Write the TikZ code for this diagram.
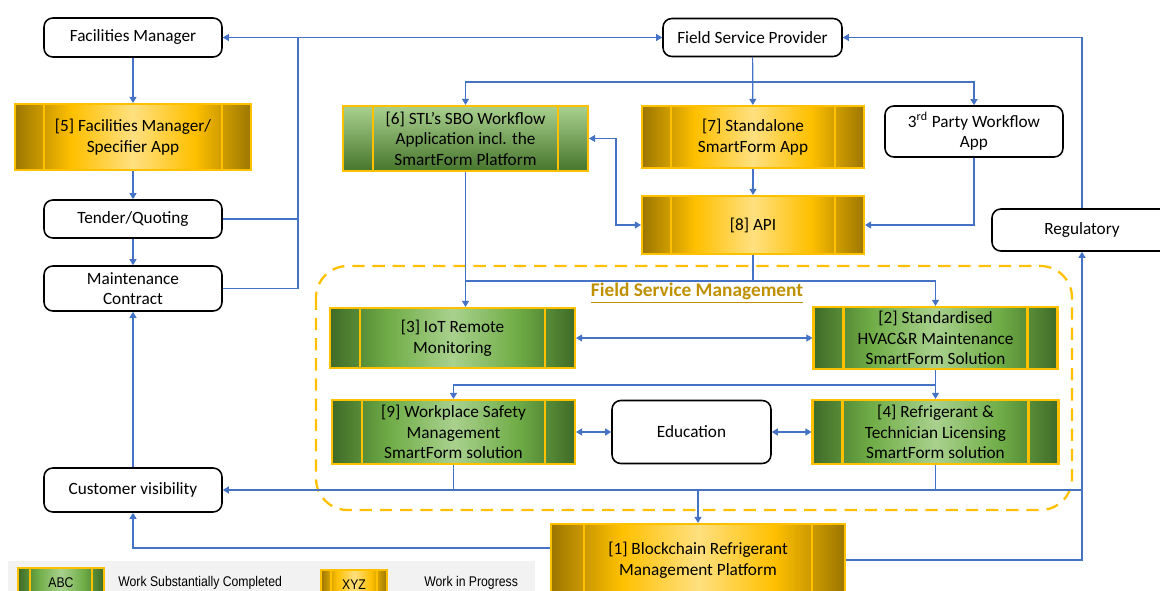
\documentclass[tikz,border=0pt]{standalone}
\usepackage{fontspec}
\setmainfont{Carlito}
\newfontfamily\legendfont[FakeStretch=0.87]{Liberation Sans}
\usetikzlibrary{arrows.meta}

\definecolor{linkblue}{HTML}{4472C4}
\definecolor{gold}{HTML}{FFC000}
\definecolor{goldlight}{HTML}{FFE080}
\definecolor{golddark}{HTML}{9C7600}
\definecolor{greenlight}{HTML}{A9D18E}
\definecolor{greenmid}{HTML}{70AD47}
\definecolor{greendark}{HTML}{3F6B27}
\definecolor{fsmgold}{HTML}{BF9000}
\definecolor{legendgray}{HTML}{F2F2F2}

\pgfdeclarehorizontalshading{goldglow}{100bp}{color(0bp)=(golddark); color(25bp)=(golddark);
  color(37bp)=(gold); color(50bp)=(goldlight); color(63bp)=(gold); color(75bp)=(golddark); color(100bp)=(golddark)}
\pgfdeclarehorizontalshading{greenglow}{100bp}{color(0bp)=(greendark); color(25bp)=(greendark);
  color(37bp)=(greenmid); color(50bp)=(greenlight); color(63bp)=(greenmid); color(75bp)=(greendark); color(100bp)=(greendark)}

\begin{document}
\begin{tikzpicture}[x=0.02cm,y=-0.02cm,
  every node/.style={font=\fontsize{9.8}{11.7}\selectfont, align=center, inner sep=0pt},
  actor/.style={draw=black, line width=0.9pt, rounded corners=5pt, fill=white},
  bars/.style={path picture={
    \draw[gold, line width=1.2pt]
      ([xshift=#1]path picture bounding box.south west) -- ([xshift=#1]path picture bounding box.north west)
      ([xshift=-#1]path picture bounding box.south east) -- ([xshift=-#1]path picture bounding box.north east);}},
  progress/.style={draw=gold, line width=1.2pt, shade, shading=goldglow, bars=0.58cm},
  completed/.style={draw=gold, line width=1.2pt, shade, shading=greenglow, bars=0.6cm},
  link/.style={draw=linkblue, line width=0.7pt},
  flow/.style={-{Triangle[length=3.5pt,width=4pt]}},
  twoway/.style={{Triangle[length=3.5pt,width=4pt]}-{Triangle[length=3.5pt,width=4pt]}},
  fsm/.style={draw=gold, line width=1.3pt, dash pattern=on 7pt off 4.5pt, rounded corners=18pt}]
  \useasboundingbox (0,0) rectangle (1160,591);

  % field service management area
  \draw[fsm] (316,266) rectangle (1072,510);
  \node[font=\fontsize{11}{13}\selectfont\bfseries, text=fsmgold] (fsmlabel) at (697,293)
    {\underline{Field Service Management}};

  % left column
  \node[actor, minimum width=3.56cm, minimum height=0.78cm] (fm) at (133,37.5) {Facilities Manager};
  \node[progress, minimum width=4.72cm, minimum height=1.32cm] (app5) at (133,137)
    {[5] Facilities Manager/\\Specifier App};
  \node[actor, minimum width=3.56cm, minimum height=0.76cm] (tender) at (133,219) {Tender/Quoting};
  \node[actor, minimum width=3.56cm, minimum height=0.9cm] (contract) at (133,288.5) {Maintenance\\Contract};
  \node[actor, minimum width=3.56cm, minimum height=0.88cm] (cust) at (133,490) {Customer visibility};

  % providers and workflow apps
  \node[actor, minimum width=3.58cm, minimum height=0.76cm] (fsp) at (752.5,37.5) {Field Service Provider};
  \node[draw=gold, line width=1.2pt, top color=greenlight, bottom color=greendark!85!greenmid, bars=0.6cm,
    minimum width=4.9cm, minimum height=1.3cm] (sbo6) at (465.5,138.5)
    {[6] STL’s SBO Workflow\\Application incl. the\\SmartForm Platform};
  \node[progress, minimum width=4.44cm, minimum height=1.24cm] (sf7) at (753,137) {[7] Standalone\\SmartForm App};
  \node[actor, minimum width=3.56cm, minimum height=1.02cm] (third) at (974,131.5)
    {3\textsuperscript{rd} Party Workflow\\App};
  \node[progress, minimum width=4.44cm, minimum height=1.16cm] (api8) at (753,225) {[8] API};
  \node[actor, minimum width=3.6cm, minimum height=0.84cm] (reg) at (1082,230) {Regulatory};

  % smartform solutions
  \node[completed, minimum width=4.9cm, minimum height=1.2cm] (iot3) at (452.5,338) {[3] IoT Remote\\Monitoring};
  \node[completed, minimum width=4.88cm, minimum height=1.24cm] (hvac2) at (935.5,338)
    {[2] Standardised\\HVAC\&R Maintenance\\SmartForm Solution};
  \node[completed, minimum width=4.86cm, minimum height=1.28cm] (wps9) at (453.5,432)
    {[9] Workplace Safety\\Management\\SmartForm solution};
  \node[actor, minimum width=3.18cm, minimum height=1.26cm] (edu) at (691.5,432) {Education};
  \node[completed, minimum width=4.92cm, minimum height=1.28cm] (lic4) at (935.5,432)
    {[4] Refrigerant \&\\Technician Licensing\\SmartForm solution};
  \node[progress, bars=0.66cm, minimum width=5.88cm, minimum height=1.44cm] (chain1) at (698,560)
    {[1] Blockchain Refrigerant\\Management Platform};

  % legend
  \fill[legendgray] (8,561) rectangle (535,595);
  \node[completed, bars=0.24cm, minimum width=1.72cm, minimum height=0.6cm,
    font=\legendfont\fontsize{8}{9}\selectfont] (abc) at (61,583) {ABC};
  \node[anchor=west, font=\legendfont\fontsize{8}{9}\selectfont] (donetext) at (118,583) {Work Substantially Completed};
  \node[progress, bars=0.2cm, minimum width=1.32cm, minimum height=0.6cm,
    font=\legendfont\fontsize{8}{9}\selectfont] (xyz) at (354,585) {XYZ};
  \node[anchor=west, font=\legendfont\fontsize{8}{9}\selectfont] (wiptext) at (424,583) {Work in Progress};

  % connectors, left column
  \draw[link,flow] (fm) -- (app5);
  \draw[link,flow] (app5) -- (tender);
  \draw[link,flow] (tender) -- (contract);
  \draw[link,flow] (cust) -- (contract);
  \coordinate (busL) at (298,37.5);
  \draw[link,twoway] (fm) -- (fsp);
  \draw[link] (tender) -| (busL);
  \draw[link] (contract) -| (busL);

  % connectors, providers
  \coordinate (fork) at (753,82);
  \draw[link,flow] (fsp) -- (sf7);
  \draw[link,flow] (fork) -| (sbo6);
  \draw[link,flow] (fork) -| (third);
  \draw[link,twoway] (sbo6.east) -- ++(27,0) |- (api8);
  \draw[link,flow] (sf7) -- (api8);
  \draw[link,flow] (third) |- (api8);
  \draw[link,flow] (reg) |- (fsp);

  % connectors, field service management
  \coordinate (fsmbus) at (465.5,281);
  \draw[link,flow] (sbo6) -- (sbo6 |- iot3.north);
  \draw[link] (api8) -- (api8 |- fsmbus);
  \draw[link,flow] (fsmbus) -| (hvac2);
  \draw[link,twoway] (iot3) -- (hvac2);
  \draw[link,flow] (hvac2) -- (lic4);
  \draw[link,flow] (hvac2.south) ++(0,15) -| (wps9);
  \draw[link,twoway] (wps9) -- (edu);
  \draw[link,twoway] (edu) -- (lic4);

  % connectors, bottom
  \coordinate (busB) at (1082,490);
  \draw[link,flow] (busB) -- (cust);
  \draw[link] (wps9) -- (wps9 |- busB);
  \draw[link] (lic4) -- (lic4 |- busB);
  \draw[link,flow] (chain1 |- busB) -- (chain1);
  \draw[link,flow] (chain1) -| (reg);
  \draw[link,flow] ([yshift=0.24cm]chain1.west) -| (cust);
\end{tikzpicture}
\end{document}
